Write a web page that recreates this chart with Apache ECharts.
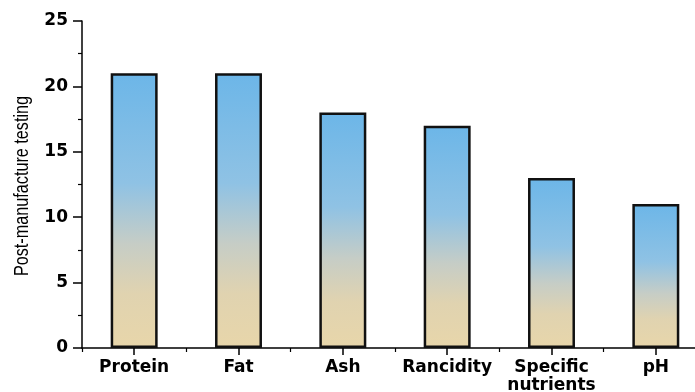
<!DOCTYPE html>
<html>
<head>
<meta charset="utf-8">
<script src="https://cdn.jsdelivr.net/npm/echarts@6/dist/echarts.min.js"></script>
<style>
html,body{margin:0;padding:0;background:#fff;overflow:hidden;}
#chart{width:695px;height:392px;}
</style>
</head>
<body>
<div id="chart"></div>
<script>
var categories = ['Protein', 'Fat', 'Ash', 'Rancidity', 'Specific\nnutrients', 'pH'];
var values = [21, 21, 18, 17, 13, 11];
var yTicks = [0, 5, 10, 15, 20, 25];
var yTitle = 'Post-manufacture testing';

var chart = echarts.init(document.getElementById('chart'));
var grad = new echarts.graphic.LinearGradient(0, 0, 0, 1, [
  {offset: 0, color: '#6cb6e8'},
  {offset: 0.4, color: '#8fc2e4'},
  {offset: 0.62, color: '#c6cdc6'},
  {offset: 0.8, color: '#e0d3b0'},
  {offset: 1, color: '#e8d6aa'}
]);
var labelFont = {fontFamily: 'DejaVu Sans, sans-serif', fontWeight: 'bold', fontSize: 17, color: '#000'};
chart.setOption({
  animation: false,
  grid: {left: 82, right: -13, top: 21, bottom: 44, containLabel: false, outerBoundsMode: 'none'},
  graphic: [{
    type: 'text',
    x: 22, y: 186,
    rotation: Math.PI / 2,
    scaleX: 0.81,
    style: {text: yTitle, font: '20px "Liberation Sans", Arial, sans-serif', fill: '#000', align: 'center', verticalAlign: 'middle'}
  }],
  xAxis: [{
    type: 'category',
    data: categories,
    position: 'bottom',
    axisLine: {lineStyle: {color: '#000', width: 1.5}},
    axisTick: {show: true, alignWithLabel: true, length: 7, lineStyle: {color: '#000', width: 1.5}},
    axisLabel: Object.assign({interval: 0, margin: 11, lineHeight: 18}, labelFont)
  }, {
    type: 'category',
    data: categories,
    position: 'bottom',
    axisLine: {show: false},
    axisTick: {show: true, interval: 0, alignWithLabel: false, length: 4, lineStyle: {color: '#000', width: 1.2}},
    axisLabel: {show: false}
  }],
  yAxis: {
    type: 'value',
    min: yTicks[0],
    max: yTicks[yTicks.length - 1],
    interval: 5,
    axisLine: {show: true, lineStyle: {color: '#000', width: 1.5}},
    axisTick: {show: true, length: 9, lineStyle: {color: '#000', width: 1.5}},
    minorTick: {show: true, splitNumber: 2, length: 4, lineStyle: {color: '#000', width: 1.2}},
    splitLine: {show: false},
    axisLabel: Object.assign({margin: 14}, labelFont)
  },
  series: [{
    type: 'bar',
    data: values,
    barWidth: '45%',
    itemStyle: {color: grad, borderColor: '#111', borderWidth: 2.5}
  }]
});
</script>
</body>
</html>
